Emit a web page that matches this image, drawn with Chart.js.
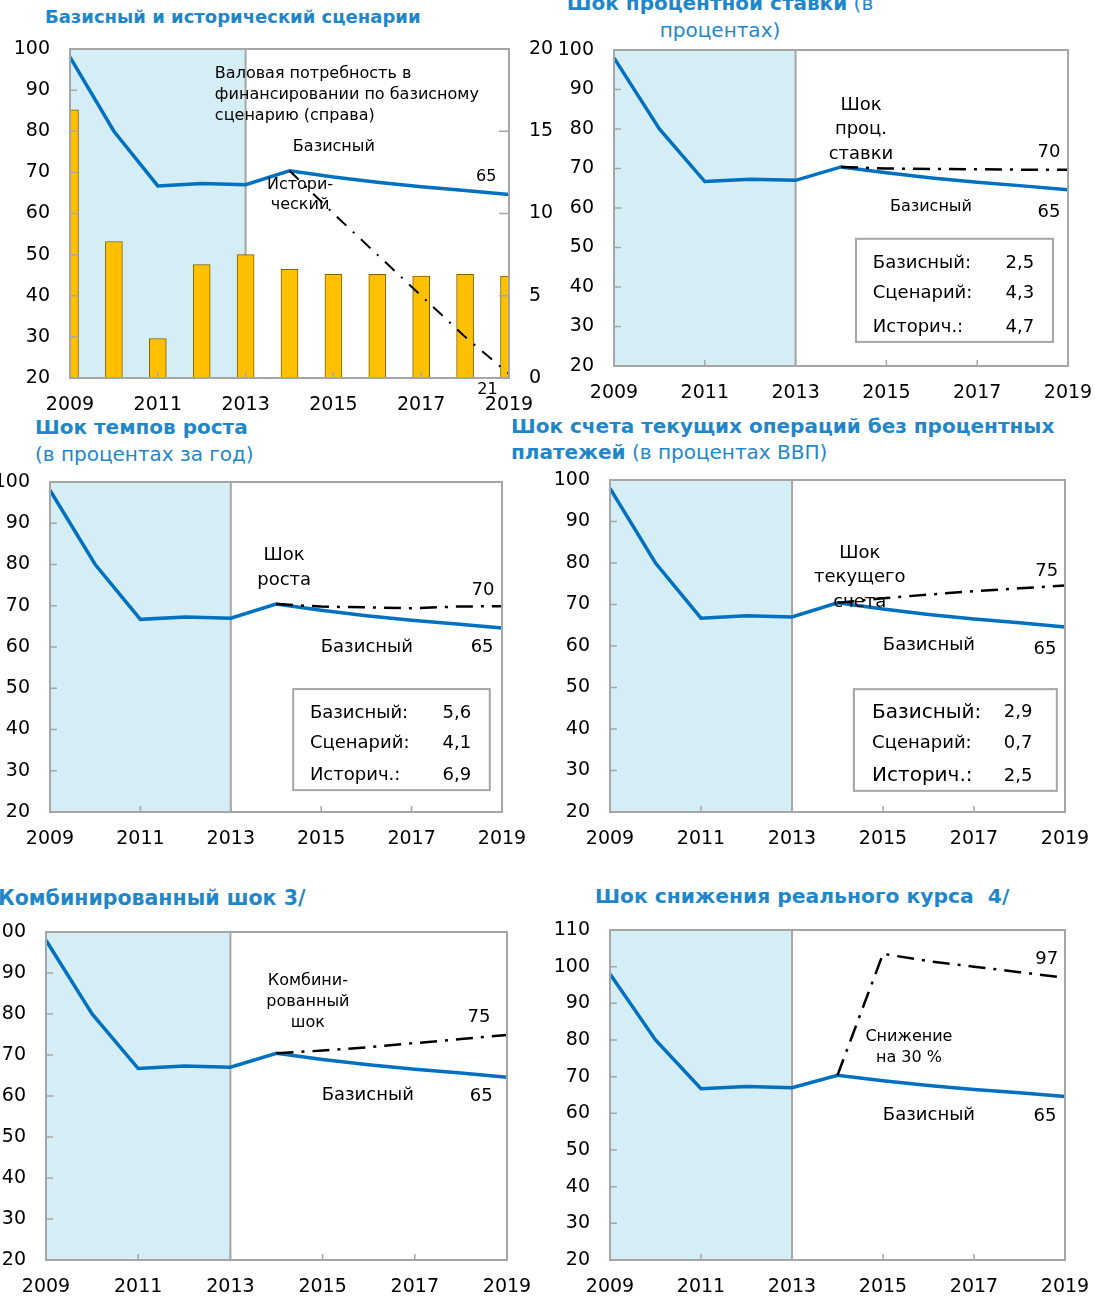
<!DOCTYPE html>
<html>
<head>
<meta charset="utf-8">
<script src="https://cdn.jsdelivr.net/npm/chart.js@4.4.1/dist/chart.umd.min.js"></script>
<style>
  html, body { margin: 0; padding: 0; background: #fff; }
  body { position: relative; width: 1095px; height: 1298px; overflow: hidden; }
  canvas { position: absolute; }
  .t { position: absolute; font-family: "DejaVu Sans", sans-serif; color: #1f87c9; font-size: 20px;
       white-space: pre; line-height: 27px; }
  .t b { font-weight: bold; }
</style>
</head>
<body>
<div class="t" style="left:45px;top:3px;font-size:18px"><b>Базисный и исторический сценарии</b></div>
<div class="t" style="left:470px;top:-10px;width:500px;text-align:center"><b>Шок процентной ставки</b> (в
процентах)</div>
<div class="t" style="left:35px;top:414px"><b>Шок темпов роста</b>
(в процентах за год)</div>
<div class="t" style="left:511px;top:413px;line-height:26px"><b>Шок счета текущих операций без процентных</b>
<b>платежей</b> (в процентах ВВП)</div>
<div class="t" style="left:-2px;top:885px;font-size:20.5px"><b>Комбинированный шок 3/</b></div>
<div class="t" style="left:595px;top:883px;font-size:20.3px"><b>Шок снижения реального курса  4/</b></div>

<canvas id="p1" width="570" height="411" style="left:0px;top:9px"></canvas>
<canvas id="p2" width="552" height="405" style="left:560px;top:10px"></canvas>
<canvas id="p3" width="566" height="413" style="left:-20px;top:442px"></canvas>
<canvas id="p4" width="564" height="415" style="left:545px;top:440px"></canvas>
<canvas id="p5" width="571" height="406" style="left:-20px;top:892px"></canvas>
<canvas id="p6" width="564" height="408" style="left:545px;top:890px"></canvas>

<script>
// data
const years = ['2009','2010','2011','2012','2013','2014','2015','2016','2017','2018','2019'];
const baseline = [98, 80, 66.7, 67.3, 67.0, 70.4, 68.9, 67.6, 66.5, 65.6, 64.6];
const grossFinancing = [16.3, 8.3, 2.4, 6.9, 7.5, 6.6, 6.3, 6.3, 6.2, 6.3, 6.2];
const historical = [null, null, null, null, null, 70.4, 60, 50, 40, 30, 21];
const interestShock = [null, null, null, null, null, 70.4, 70.0, 69.9, 69.8, 69.7, 69.7];
const growthShock = [null, null, null, null, null, 70.4, 69.8, 69.6, 69.4, 69.8, 69.9];
const currentAccountShock = [null, null, null, null, null, 70.4, 71.5, 72.4, 73.2, 73.9, 74.6];
const combinedShock = [null, null, null, null, null, 70.4, 71.1, 71.9, 72.9, 73.9, 74.9];
const depreciationShock = [null, null, null, null, null, 70.4, 103.5, 101.5, 100, 98.5, 97];

const statLabels = ['Базисный:', 'Сценарий:', 'Историч.:'];
const interestStats = ['2,5', '4,3', '4,7'];
const growthStats = ['5,6', '4,1', '6,9'];
const currentAccountStats = ['2,9', '0,7', '2,5'];

const FONT = '"DejaVu Sans", sans-serif';
Chart.defaults.font.family = FONT;
Chart.defaults.color = '#000';

const BLUE = '#0070c0';
const GRAY = '#a6a6a6';

// shading of the history period, frame, inner ticks, labels and stat boxes
const decor = {
  id: 'decor',
  beforeDatasetsDraw(chart, args, o) {
    const { ctx, chartArea: a, scales: { x } } = chart;
    const xs = x.getPixelForValue(o.shadeTo);
    ctx.save();
    ctx.fillStyle = '#d5edf4';
    ctx.fillRect(a.left, a.top, xs - a.left, a.bottom - a.top);
    ctx.strokeStyle = GRAY;
    ctx.lineWidth = 2;
    ctx.beginPath();
    ctx.moveTo(xs, a.top);
    ctx.lineTo(xs, a.bottom);
    ctx.stroke();
    ctx.restore();
  },
  afterDatasetsDraw(chart, args, o) {
    const { ctx, chartArea: a, scales } = chart;
    const x = scales.x, y = scales.y;
    ctx.save();
    ctx.strokeStyle = GRAY;
    ctx.lineWidth = 2;
    ctx.strokeRect(a.left, a.top, a.right - a.left, a.bottom - a.top);
    ctx.lineWidth = 1.5;
    ctx.beginPath();
    y.ticks.forEach(t => {
      const p = y.getPixelForValue(t.value);
      ctx.moveTo(a.left, p); ctx.lineTo(a.left + 7, p);
    });
    if (scales.y1) {
      scales.y1.ticks.forEach(t => {
        const p = scales.y1.getPixelForValue(t.value);
        ctx.moveTo(a.right, p); ctx.lineTo(a.right - 10, p);
      });
    }
    years.forEach((yr, i) => {
      if (i % 2 === 0) {
        const p = x.getPixelForValue(i);
        ctx.moveTo(p, a.bottom); ctx.lineTo(p, a.bottom - 6);
      }
    });
    ctx.stroke();

    if (o.box) {
      const b = o.box;
      const bx0 = x.getPixelForValue(b.x0), bx1 = x.getPixelForValue(b.x1);
      const by0 = y.getPixelForValue(b.y0), by1 = y.getPixelForValue(b.y1);
      ctx.fillStyle = '#fff';
      ctx.fillRect(bx0, by0, bx1 - bx0, by1 - by0);
      ctx.strokeStyle = GRAY;
      ctx.lineWidth = 2;
      ctx.strokeRect(bx0, by0, bx1 - bx0, by1 - by0);
      ctx.fillStyle = '#000';
      ctx.textBaseline = 'middle';
      b.rows.forEach((r, k) => {
        const py = y.getPixelForValue(b.rowY[k]);
        ctx.font = (b.labelSizes ? b.labelSizes[k] : 18) + 'px ' + FONT;
        ctx.textAlign = 'left';
        ctx.fillText(statLabels[k], x.getPixelForValue(b.labelX), py);
        ctx.font = '18px ' + FONT;
        ctx.textAlign = 'center';
        ctx.fillText(r, x.getPixelForValue(b.valueX), py);
      });
    }

    ctx.fillStyle = '#000';
    ctx.textBaseline = 'middle';
    (o.notes || []).forEach(n => {
      ctx.font = (n.size || 18) + 'px ' + FONT;
      ctx.textAlign = n.align || 'center';
      const px = x.getPixelForValue(n.x), py = y.getPixelForValue(n.y);
      n.text.forEach((line, k) => ctx.fillText(line, px, py + k * (n.lh || 24)));
    });
    ctx.restore();
  }
};

function xScale(xh) {
  return {
    type: 'category', offset: false,
    grid: { display: false, drawTicks: false }, border: { display: false },
    ticks: { autoSkip: false, maxRotation: 0, padding: 16, font: { size: 19 },
             callback: (v, i) => (i % 2 === 0 ? years[i] : null) },
    afterFit: s => { s.height = xh; }
  };
}
function yScale(min, max, yw, pos) {
  return {
    type: 'linear', position: pos || 'left', min: min, max: max,
    grid: { display: false, drawTicks: false }, border: { display: false },
    ticks: { stepSize: max - min > 50 ? 10 : 5, padding: 20, font: { size: 19 } },
    afterFit: s => { s.width = yw; }
  };
}
function baseLine() {
  return { type: 'line', data: baseline, borderColor: BLUE, borderWidth: 3.5, pointRadius: 0,
           tension: 0, order: 1, clip: 3 };
}
function shockLine(data) {
  return { type: 'line', data: data, borderColor: '#000', borderWidth: 2.5, pointRadius: 0,
           borderDash: [17, 8, 3, 8], tension: 0, order: 0, clip: 3 };
}
function panel(id, datasets, scales, pad, decorOpts) {
  new Chart(document.getElementById(id), {
    type: 'line',
    data: { labels: years, datasets: datasets },
    options: {
      responsive: false, animation: false, events: [],
      layout: { padding: pad },
      plugins: { legend: { display: false }, tooltip: { enabled: false }, decor: decorOpts },
      scales: scales
    },
    plugins: [decor]
  });
}

// 1. Baseline and historical scenarios
panel('p1', [
  { type: 'bar', data: grossFinancing, yAxisID: 'y1', backgroundColor: '#ffc000',
    borderColor: '#7f6000', borderWidth: 1, barThickness: 17, order: 3, clip: 0 },
  baseLine(),
  Object.assign(shockLine(historical), { borderWidth: 2, borderDash: [13, 9, 2, 9] })
], { x: xScale(42), y: yScale(20, 100, 70), y1: yScale(0, 20, 50, 'right') },
{ left: 0, top: 40, right: 11, bottom: 0 },
{ shadeTo: 4, notes: [
  { x: 3.30, y: 93.9, text: ['Валовая потребность в', 'финансировании по базисному', 'сценарию (справа)'],
    align: 'left', size: 16, lh: 21 },
  { x: 6.01, y: 76.2, text: ['Базисный'], size: 16 },
  { x: 9.48, y: 68.9, text: ['65'], size: 16 },
  { x: 5.24, y: 66.9, text: ['Истори-', 'ческий'], size: 16, lh: 20 },
  { x: 9.51, y: 17.1, text: ['21'], size: 16 }
] });

// 2. Interest rate shock
panel('p2', [baseLine(), shockLine(interestShock)],
{ x: xScale(49), y: yScale(20, 100, 54) },
{ left: 0, top: 40, right: 44, bottom: 0 },
{ shadeTo: 4,
  box: { x0: 5.33, x1: 9.67, y0: 52.2, y1: 26.1, labelX: 5.70, valueX: 8.94,
         rowY: [46.1, 38.5, 29.9], rows: interestStats },
  notes: [
    { x: 5.44, y: 86.1, text: ['Шок', 'проц.', 'ставки'], size: 18, lh: 24.5 },
    { x: 9.58, y: 74.2, text: ['70'] },
    { x: 6.98, y: 60.3, text: ['Базисный'], size: 16 },
    { x: 9.58, y: 59.0, text: ['65'] }
  ] });

// 3. Growth shock
panel('p3', [baseLine(), shockLine(growthShock)],
{ x: xScale(43), y: yScale(20, 100, 70) },
{ left: 0, top: 40, right: 44, bottom: 0 },
{ shadeTo: 4,
  box: { x0: 5.38, x1: 9.73, y0: 49.8, y1: 25.3, labelX: 5.75, valueX: 9.0,
         rowY: [44.0, 36.7, 29.0], rows: growthStats },
  notes: [
    { x: 5.18, y: 82.3, text: ['Шок', 'роста'], lh: 25 },
    { x: 9.58, y: 73.8, text: ['70'] },
    { x: 7.01, y: 60.0, text: ['Базисный'] },
    { x: 9.56, y: 59.8, text: ['65'] }
  ] });

// 4. Current account shock
panel('p4', [baseLine(), shockLine(currentAccountShock)],
{ x: xScale(43), y: yScale(20, 100, 65) },
{ left: 0, top: 40, right: 44, bottom: 0 },
{ shadeTo: 4,
  box: { x0: 5.36, x1: 9.82, y0: 49.6, y1: 25.1, labelX: 5.76, valueX: 8.97,
         rowY: [43.9, 36.6, 28.7], rows: currentAccountStats, labelSizes: [20, 18, 20] },
  notes: [
    { x: 5.49, y: 82.4, text: ['Шок', 'текущего', 'счета'], lh: 24.5 },
    { x: 9.60, y: 78.1, text: ['75'] },
    { x: 7.01, y: 60.2, text: ['Базисный'] },
    { x: 9.56, y: 59.3, text: ['65'] }
  ] });

// 5. Combined shock
panel('p5', [baseLine(), shockLine(combinedShock)],
{ x: xScale(38), y: yScale(20, 100, 66) },
{ left: 0, top: 40, right: 44, bottom: 0 },
{ shadeTo: 4,
  notes: [
    { x: 5.68, y: 88.0, text: ['Комбини-', 'рованный', 'шок'], size: 16, lh: 21 },
    { x: 9.39, y: 79.3, text: ['75'] },
    { x: 6.98, y: 60.2, text: ['Базисный'] },
    { x: 9.44, y: 59.8, text: ['65'] }
  ] });

// 6. Real depreciation shock
panel('p6', [baseLine(), shockLine(depreciationShock)],
{ x: xScale(38), y: yScale(20, 110, 65) },
{ left: 0, top: 40, right: 44, bottom: 0 },
{ shadeTo: 4,
  notes: [
    { x: 6.57, y: 80.8, text: ['Снижение', 'на 30 %'], size: 16, lh: 21 },
    { x: 9.60, y: 102.1, text: ['97'] },
    { x: 7.01, y: 59.5, text: ['Базисный'] },
    { x: 9.56, y: 59.3, text: ['65'] }
  ] });
</script>
</body>
</html>
